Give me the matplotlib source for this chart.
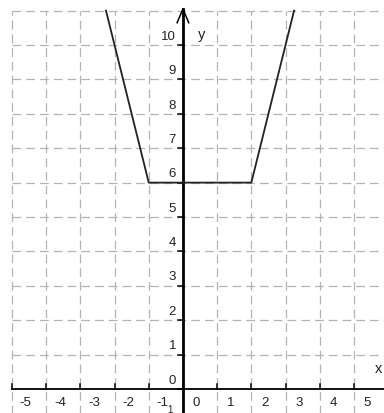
import matplotlib
matplotlib.use("Agg")
import matplotlib.pyplot as plt

plt.rcParams['font.family'] = ['Liberation Sans', 'DejaVu Sans']

# graph corners of y = 2(|x+1| + |x-2|)
curve_x = [-2.25, -1, 2, 3.25]
curve_y = [11, 6, 6, 11]

x_ticks = [-5, -4, -3, -2, -1, 0, 1, 2, 3, 4, 5]
y_ticks = [0, 1, 2, 3, 4, 5, 6, 7, 8, 9, 10]
x_grid = x_ticks
y_grid = [1, 2, 3, 4, 5, 6, 7, 8, 9, 10, 11]

fig = plt.figure(figsize=(3.84, 4.14), dpi=100)
ax = fig.add_axes([0, 0, 1, 1])
ax.set_xlim(-5.35, 5.88)
ax.set_ylim(-0.70, 11.34)
ax.axis('off')

grid_kw = dict(color='#b4b4b4', lw=0.9, dashes=(7, 4), zorder=1)
for gx in x_grid:
    ax.plot([gx, gx], [-0.8, 11], **grid_kw)
for gy in y_grid:
    ax.plot([-5, 6], [gy, gy], **grid_kw)

# axes
ax.plot([-5, 6], [0, 0], color='black', lw=1.3, zorder=3)
ax.plot([0, 0], [-0.8, 11.05], color='black', lw=2.0, zorder=3)
ax.plot([-0.17, 0, 0.17], [10.65, 11.05, 10.65], color='black', lw=1.1, zorder=3)

for tx in x_ticks:
    ax.plot([tx, tx], [0, 0.14], color='black', lw=1.1, zorder=3)
    ax.text(tx + 0.4, -0.38, str(tx), ha='center', va='center', fontsize=9.5, color='#222222')
for ty in y_ticks:
    ax.plot([-0.14, 0], [ty, ty], color='black', lw=1.1, zorder=3)
    ax.text(-0.2, ty + 0.27, str(ty), ha='right', va='center', fontsize=9.5, color='#222222')

ax.text(-0.38, -0.58, '1', ha='center', va='center', fontsize=7, color='#222222')
ax.text(0.55, 10.32, 'y', ha='center', va='center', fontsize=10.5, color='#222222')
ax.text(5.72, 0.6, 'x', ha='center', va='center', fontsize=10.5, color='#222222')

ax.plot(curve_x, curve_y, color='#222222', lw=1.3, zorder=4)

fig.savefig('out.png', dpi=100)
